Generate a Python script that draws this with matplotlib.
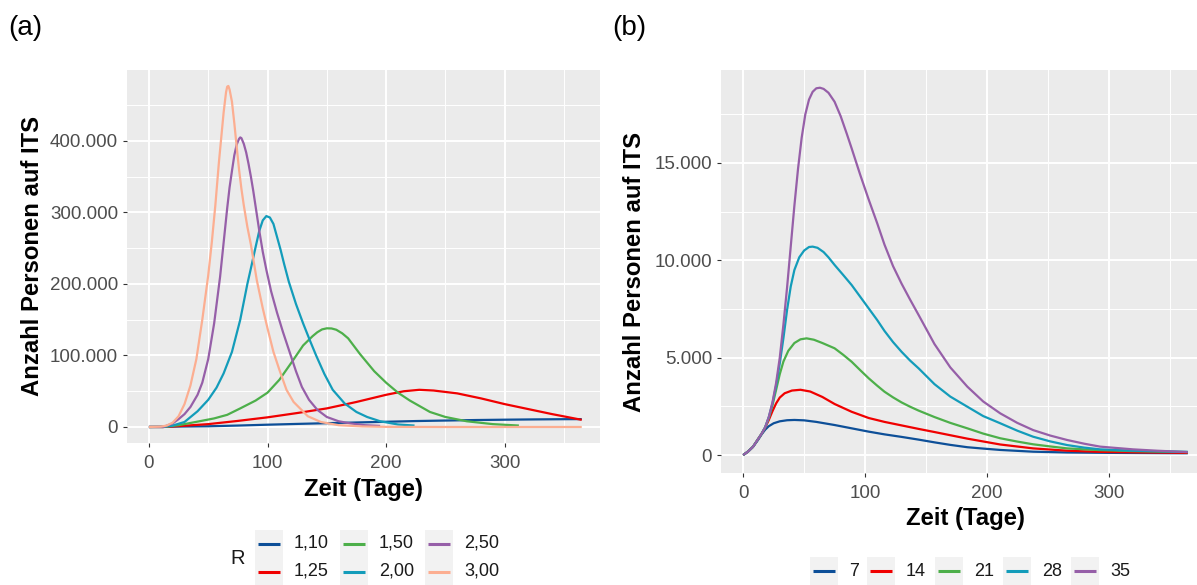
import matplotlib
matplotlib.use("Agg")
import matplotlib.pyplot as plt
from matplotlib.ticker import FuncFormatter, FixedLocator
from matplotlib.patches import Rectangle
from matplotlib.lines import Line2D

plt.rcParams['font.family'] = ['Liberation Sans', 'DejaVu Sans']

# ---------------- data: panel (a), R values ----------------
r_labels = ["1,10", "1,25", "1,50", "2,00", "2,50", "3,00"]
r_colors = ["#0D4F98", "#F00000", "#4DAF4A", "#139CBA", "#965FA8", "#FCAE91"]

days_r110 = [0, 12, 25, 50, 75, 100, 125, 150, 175, 200, 225, 250, 275, 300, 325, 350, 365]
its_r110 = [0, 300, 600, 1000, 2000, 3200, 4300, 5300, 6300, 7300, 8300, 9000, 9700, 10200, 10600, 10900, 11000]

days_r125 = [0, 12, 25, 50, 75, 100, 125, 150, 175, 200, 215, 228, 240, 260, 280, 300, 320, 340, 365]
its_r125 = [0, 0, 1200, 4000, 8500, 13500, 19500, 26000, 35000, 45000, 50000, 52000, 51000, 47000, 40000,
            32000, 25000, 18000, 10000]

days_r150 = [0, 12, 25, 41, 55, 66, 77, 90, 100, 110, 121, 130, 138, 142, 146, 150, 154, 158, 163, 168, 178,
             190, 200, 210, 220, 237, 250, 268, 290, 312]
its_r150 = [0, 0, 2500, 7500, 12000, 17000, 26000, 37000, 48000, 66000, 92000, 114000, 127000, 132500,
            136500, 138000, 137800, 136000, 131000, 124000, 102000, 78000, 62000, 48000, 37000, 21000, 14000,
            8000, 4000, 2000]

days_r200 = [0, 12, 20, 30, 41, 50, 57, 63, 70, 77, 83, 86, 90, 93, 96, 99, 102, 105, 108, 111, 114, 118,
             124, 130, 136, 141, 148, 155, 165, 175, 184, 195, 210, 224]
its_r200 = [0, 0, 2000, 7000, 22000, 38000, 55000, 75000, 105000, 150000, 200000, 222000, 252000, 274000,
            289000, 295000, 293000, 284000, 266000, 248000, 228000, 203000, 172000, 145000, 120000, 100000,
            74000, 52000, 33000, 21000, 14000, 8000, 3500, 2000]

days_r250 = [0, 12, 20, 25, 30, 35, 41, 45, 50, 55, 60, 63, 66, 68, 70, 72, 74, 76, 77, 78, 80, 82, 84, 86,
             88, 90, 93, 96, 99, 103, 108, 113, 119, 124, 129, 135, 142, 150, 160, 170, 182, 195]
its_r250 = [0, 0, 5000, 11000, 18000, 28000, 45000, 62000, 95000, 145000, 210000, 258000, 306000, 335000,
            358000, 380000, 395000, 403000, 405000, 404000, 396000, 384000, 368000, 350000, 330000, 308000,
            275000, 245000, 220000, 190000, 160000, 133000, 103000, 78000, 56000, 38000, 24000, 14000, 8000,
            5000, 2500, 1500]

days_r300 = [0, 10, 15, 20, 25, 30, 35, 40, 45, 50, 53, 56, 59, 61, 63, 65, 66, 67, 68, 70, 72, 74, 76, 78,
             80, 83, 86, 91, 96, 100, 105, 110, 116, 122, 128, 134, 145, 160, 180, 200, 250, 365]
its_r300 = [0, 500, 2000, 6000, 15000, 32000, 58000, 95000, 150000, 212000, 258000, 310000, 370000, 405000,
            440000, 468000, 476000, 477000, 472000, 455000, 425000, 392000, 360000, 333000, 310000, 280000,
            255000, 205000, 166000, 138000, 105000, 80000, 52000, 35000, 25000, 15000, 7000, 2500, 800, 200,
            0, 0]

# ---------------- data: panel (b), second parameter ----------------
b_labels = ["7", "14", "21", "28", "35"]
b_colors = ["#0D4F98", "#F00000", "#4DAF4A", "#139CBA", "#965FA8"]

days_b7 = [0, 4, 8, 12, 15, 18, 21, 25, 30, 36, 42, 50, 60, 75, 89, 103, 116, 130, 144, 157, 170, 184, 197,
           211, 238, 266, 300, 365]
its_b7 = [0, 180, 420, 760, 1050, 1300, 1480, 1630, 1730, 1785, 1800, 1780, 1700, 1540, 1370, 1200, 1060,
          930, 790, 650, 520, 400, 330, 260, 170, 130, 110, 90]

days_b14 = [0, 4, 8, 12, 15, 18, 21, 24, 27, 30, 34, 40, 47, 55, 65, 75, 89, 103, 116, 130, 144, 157, 184,
            211, 238, 266, 293, 330, 365]
its_b14 = [0, 180, 420, 800, 1080, 1400, 1800, 2250, 2650, 2950, 3170, 3310, 3350, 3260, 2980, 2620, 2220,
           1900, 1700, 1520, 1340, 1180, 840, 540, 340, 220, 160, 130, 110]

days_b21 = [0, 4, 8, 12, 15, 18, 21, 24, 27, 30, 33, 37, 42, 47, 52, 58, 65, 75, 82, 89, 96, 103, 110, 116,
            123, 130, 137, 144, 157, 170, 184, 197, 211, 225, 238, 252, 266, 280, 293, 320, 365]
its_b21 = [0, 180, 420, 800, 1080, 1420, 1900, 2550, 3350, 4150, 4800, 5350, 5750, 5940, 5990, 5920, 5750,
           5480, 5150, 4790, 4360, 3940, 3560, 3250, 2960, 2700, 2480, 2280, 1950, 1650, 1370, 1100, 860,
           690, 550, 440, 340, 290, 250, 200, 150]

days_b28 = [0, 4, 8, 12, 15, 18, 21, 24, 27, 30, 33, 36, 39, 42, 46, 50, 54, 57, 61, 66, 70, 75, 82, 89, 96,
            103, 110, 116, 123, 130, 137, 144, 157, 170, 184, 197, 211, 225, 238, 252, 266, 280, 293, 320,
            340, 365]
its_b28 = [0, 180, 420, 800, 1080, 1420, 1950, 2650, 3550, 4700, 6000, 7450, 8650, 9500, 10150, 10500,
           10680, 10700, 10640, 10420, 10150, 9760, 9250, 8730, 8130, 7530, 6930, 6370, 5800, 5300, 4850,
           4450, 3640, 3000, 2480, 2000, 1630, 1250, 940, 700, 510, 380, 290, 220, 190, 160]

days_b35 = [0, 4, 8, 12, 15, 18, 21, 24, 27, 30, 33, 36, 39, 42, 45, 48, 51, 54, 57, 60, 63, 66, 70, 75, 80,
            85, 89, 96, 103, 110, 116, 123, 130, 137, 144, 157, 170, 184, 197, 211, 225, 238, 252, 266, 280,
            293, 320, 340, 365]
its_b35 = [0, 180, 420, 800, 1080, 1420, 1950, 2700, 3700, 5000, 6700, 8600, 10700, 12800, 14700, 16300,
           17500, 18250, 18650, 18830, 18860, 18800, 18600, 18140, 17400, 16500, 15750, 14400, 13120, 11900,
           10800, 9700, 8800, 7980, 7190, 5700, 4500, 3510, 2750, 2140, 1650, 1280, 1000, 770, 580, 430,
           290, 220, 150]

panel_a = [(days_r110, its_r110), (days_r125, its_r125), (days_r150, its_r150),
           (days_r200, its_r200), (days_r250, its_r250), (days_r300, its_r300)]
panel_b = [(days_b7, its_b7), (days_b14, its_b14), (days_b21, its_b21),
           (days_b28, its_b28), (days_b35, its_b35)]

# ---------------- figure ----------------
W, H = 1197, 585
fig = plt.figure(figsize=(W / 100, H / 100), dpi=100)


def fx(px):
    return px / W


def fy(py):
    return 1 - py / H


ax1 = fig.add_axes([fx(127), fy(443), (600 - 127) / W, (443 - 70) / H])
ax2 = fig.add_axes([fx(721), fy(473), (1210 - 721) / W, (473 - 70) / H])

dot_fmt = FuncFormatter(lambda v, p: f"{int(round(v)):,}".replace(",", "."))


def style(ax):
    ax.set_facecolor('#EBEBEB')
    for s in ax.spines.values():
        s.set_visible(False)
    ax.grid(which='major', color='white', lw=1.4)
    ax.grid(which='minor', color='white', lw=0.7)
    ax.set_axisbelow(True)
    ax.tick_params(which='major', length=2.9, width=0.8, color='#333333',
                   labelcolor='#4D4D4D', labelsize=13.5)
    ax.tick_params(which='minor', length=0)
    ax.tick_params(axis='x', pad=5.5)
    ax.tick_params(axis='y', pad=3.5)
    ax.yaxis.set_major_formatter(dot_fmt)


for (d, v), c in zip(panel_a, r_colors):
    ax1.plot(d, v, color=c, lw=1.6, solid_capstyle='butt', solid_joinstyle='round')
for (d, v), c in zip(panel_b, b_colors):
    ax2.plot(d, v, color=c, lw=1.6, solid_capstyle='butt', solid_joinstyle='round')

style(ax1)
style(ax2)

ax1.set_xlim(-18.5, 380.4)
ax1.set_ylim(-22400, 499300)
ax1.xaxis.set_major_locator(FixedLocator([0, 100, 200, 300]))
ax1.xaxis.set_minor_locator(FixedLocator([50, 150, 250, 350]))
ax1.yaxis.set_major_locator(FixedLocator([0, 100000, 200000, 300000, 400000]))
ax1.yaxis.set_minor_locator(FixedLocator([50000, 150000, 250000, 350000, 450000]))

ax2.set_xlim(-18.25, 383.25)
ax2.set_ylim(-924, 19770)
ax2.xaxis.set_major_locator(FixedLocator([0, 100, 200, 300]))
ax2.xaxis.set_minor_locator(FixedLocator([50, 150, 250, 350]))
ax2.yaxis.set_major_locator(FixedLocator([0, 5000, 10000, 15000]))
ax2.yaxis.set_minor_locator(FixedLocator([2500, 7500, 12500, 17500]))

for ax, xly, yly in [(ax1, -0.126, -0.2008), (ax2, -0.1117, -0.1759)]:
    ax.set_xlabel("Zeit (Tage)", fontsize=17.2, fontweight='bold', color='black')
    ax.set_ylabel("Anzahl Personen auf ITS", fontsize=17.2, fontweight='bold', color='black')
    ax.xaxis.set_label_coords(0.5, xly)
    ax.xaxis.label.set_va('center')
    ax.yaxis.set_label_coords(yly, 0.5)
    ax.yaxis.label.set_va('center')

fig.text(fx(8), fy(28), "(a)", fontsize=20, va='center', ha='left')
fig.text(fx(612), fy(28), "(b)", fontsize=20, va='center', ha='left')


# ---------------- legends (drawn in figure pixel coords) ----------------
def key(x, yc, color, label):
    fig.add_artist(Rectangle((fx(x), fy(yc + 14)), 28 / W, 28 / H, transform=fig.transFigure,
                             facecolor='#F2F2F2', edgecolor='none'))
    fig.add_artist(Line2D([fx(x + 3), fx(x + 25)], [fy(yc), fy(yc)], transform=fig.transFigure,
                          color=color, lw=2.2, solid_capstyle='butt'))
    fig.text(fx(x + 39), fy(yc), label, fontsize=13, va='center', ha='left', color='#1A1A1A')


fig.text(fx(238), fy(559), "R", fontsize=14.5, va='center', ha='center', color='#1A1A1A')
col_x = [255, 340, 425]
row_y = [543.5, 571.5]
for i, (lab, col) in enumerate(zip(r_labels, r_colors)):
    key(col_x[i // 2], row_y[i % 2], col, lab)

b_x = [810, 867, 935, 1003, 1071]
for x, lab, col in zip(b_x, b_labels, b_colors):
    key(x, 571, col, lab)

fig.savefig("out.png", dpi=100)
